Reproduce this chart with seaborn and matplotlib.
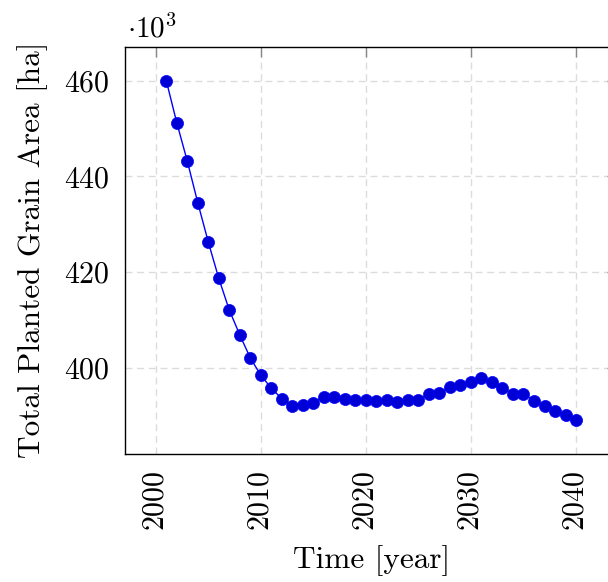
import matplotlib
matplotlib.use("Agg")
import matplotlib.pyplot as plt
import seaborn as sns
import pandas as pd
from matplotlib.ticker import FuncFormatter

# Total planted grain area per year, in thousands of hectares
years = list(range(2001, 2041))
area_thousand_ha = [
    460.0, 451.2, 443.2, 434.5, 426.3, 418.7, 412.1, 406.9, 402.1, 398.5,
    395.8, 393.6, 392.1, 392.2, 392.8, 394.0, 393.9, 393.6, 393.4, 393.3,
    393.2, 393.3, 392.9, 393.4, 393.4, 394.5, 394.8, 396.0, 396.5, 397.0,
    397.9, 397.0, 395.8, 394.6, 394.6, 393.2, 392.0, 391.0, 390.1, 389.2,
]
x_ticks = [2000, 2010, 2020, 2030, 2040]
y_ticks = [400, 420, 440, 460]

df = pd.DataFrame({
    "year": years,
    "area": [v * 1000 for v in area_thousand_ha],
})

sns.set_style("white")
plt.rcParams["font.family"] = ["cmr10"]
plt.rcParams["mathtext.fontset"] = "cm"
plt.rcParams["axes.unicode_minus"] = False
plt.rcParams["axes.formatter.use_mathtext"] = True
plt.rcParams["text.color"] = "black"
plt.rcParams["axes.labelcolor"] = "black"

fig = plt.figure(figsize=(6.08, 5.82), dpi=100)
ax = fig.add_axes([0.2061, 0.2204, 0.8087, 0.6993])

sns.lineplot(
    data=df, x="year", y="area", ax=ax,
    color="#0000ff", linewidth=1.0,
    marker="o", markersize=8.7,
    markerfacecolor="#0000d6", markeredgecolor="#0000ff", markeredgewidth=0.5,
)

ax.set_xlim(1997.1, 2043.9)
ax.set_ylim(382.12e3, 467.08e3)
ax.set_xticks(x_ticks)
ax.set_yticks([v * 1000 for v in y_ticks])
ax.yaxis.set_major_formatter(FuncFormatter(lambda v, p: f"${v / 1000:.0f}$"))
ax.xaxis.set_major_formatter(FuncFormatter(lambda v, p: f"${v:.0f}$"))

ax.grid(True, color="#dcdcdc", linestyle=(0, (5, 3.4)), linewidth=1.0)
ax.set_axisbelow(True)

for s in ax.spines.values():
    s.set_color("black")
    s.set_linewidth(1.0)

ax.tick_params(axis="both", which="major", direction="in", length=7.5,
               width=1.0, color="#888888", labelsize=21.5,
               top=True, right=True, labelcolor="black")
ax.tick_params(axis="y", pad=11)
ax.tick_params(axis="x", pad=12)
for lbl in ax.get_xticklabels():
    lbl.set_rotation(90)

ax.set_xlabel("Time [year]", fontsize=22.5, labelpad=10)
ax.set_ylabel("Total Planted Grain Area [ha]", fontsize=22.5, labelpad=12)

fig.text(127 / 608, 1 - 37 / 582, r"$\cdot 10^{3}$", fontsize=21,
         ha="left", va="baseline")

fig.savefig("out.png", dpi=100)
